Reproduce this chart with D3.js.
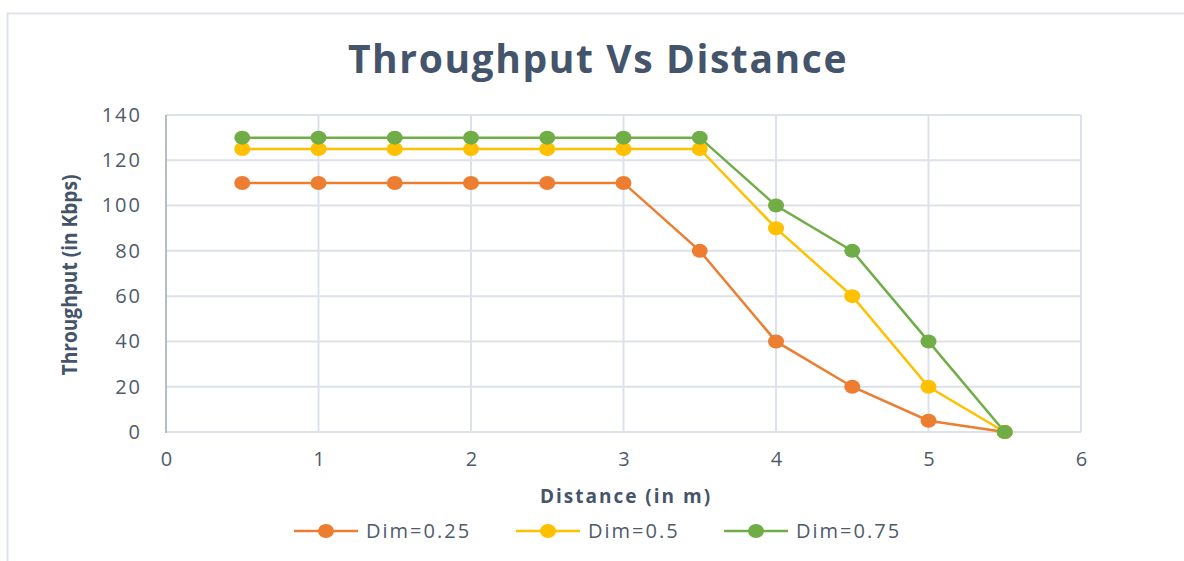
<!DOCTYPE html>
<html><head><meta charset="utf-8">
<script src="https://cdn.jsdelivr.net/npm/d3@7"></script>
<style>body{margin:0;background:#fff}svg{display:block}</style>
</head><body>
<svg id="c" width="1184" height="561"></svg>
<script>
const distances = [0.5,1,1.5,2,2.5,3,3.5,4,4.5,5,5.5];
const dim025 = [110,110,110,110,110,110,80,40,20,5,0];
const dim05  = [125,125,125,125,125,125,125,90,60,20,0];
const dim075 = [130,130,130,130,130,130,130,100,80,40,0];
const seriesNames = ["Dim=0.25","Dim=0.5","Dim=0.75"];
const seriesColors = ["#ED7D31","#FFC000","#70AD47"];
const xTicks = [0,1,2,3,4,5,6];
const yTicks = [0,20,40,60,80,100,120,140];

const series = [dim025, dim05, dim075].map((v,i)=>({name:seriesNames[i], color:seriesColors[i],
  pts: v.map((y,j)=>({x:distances[j], y}))}));

const svg = d3.select("#c");
const font = "'Open Sans', 'Noto Sans', sans-serif";
svg.append("rect").attr("x",7.5).attr("y",13.5).attr("width",1200).attr("height",600)
  .attr("fill","#fff").attr("stroke","#dfe3ea").attr("stroke-width",2);

const L=166, R=1081, T=115, B=432;
const x = d3.scaleLinear().domain([0,6]).range([L,R]);
const y = d3.scaleLinear().domain([0,140]).range([B,T]);

// gridlines
svg.append("g").selectAll("line").data(yTicks).join("line")
  .attr("x1",L).attr("x2",R).attr("y1",d=>y(d)).attr("y2",d=>y(d))
  .attr("stroke","#dde2ea").attr("stroke-width",2);
svg.append("g").selectAll("line").data(xTicks).join("line")
  .attr("y1",T).attr("y2",B).attr("x1",d=>x(d)).attr("x2",d=>x(d))
  .attr("stroke","#dde2ea").attr("stroke-width",2);
svg.append("line").attr("x1",L).attr("x2",L).attr("y1",T).attr("y2",B+1)
  .attr("stroke","#b4bcc8").attr("stroke-width",2);

// axes labels
const yAxis = d3.axisLeft(y).tickValues(yTicks).tickSize(0).tickPadding(24).tickFormat(d3.format("d"));
const gy = svg.append("g").attr("transform",`translate(${L},0)`).call(yAxis);
const xAxis = d3.axisBottom(x).tickValues(xTicks).tickSize(0).tickPadding(20).tickFormat(d3.format("d"));
const gx = svg.append("g").attr("transform",`translate(0,${B})`).call(xAxis);
[gx,gy].forEach(g=>{g.select(".domain").remove();
  g.selectAll("text").attr("fill","#4f5b6b").style("font-family",font).style("font-size","20px").style("letter-spacing","2px");});
gx.selectAll("text").attr("dx",1);

// title
svg.append("text").attr("x",598).attr("y",73).attr("text-anchor","middle")
  .attr("fill","#44546A").style("font-family",font).style("font-weight","bold").style("font-size","39px")
  .style("letter-spacing","1.6px")
  .text("Throughput Vs Distance");
svg.append("text").attr("x",626).attr("y",503).attr("text-anchor","middle")
  .attr("fill","#44546A").style("font-family",font).style("font-weight","bold").style("font-size","19px")
  .style("letter-spacing","2px")
  .text("Distance (in m)");
svg.append("text").attr("transform","translate(77,275) rotate(-90) scale(0.87,1)").attr("text-anchor","middle")
  .attr("fill","#44546A").style("font-family",font).style("font-weight","bold").style("font-size","22px")
  .text("Throughput (in Kbps)");

// lines
const line = d3.line().x(d=>x(d.x)).y(d=>y(d.y));
series.forEach(s=>{
  svg.append("path").attr("d",line(s.pts)).attr("fill","none").attr("stroke",s.color).attr("stroke-width",2.5);
});
series.forEach(s=>{
  svg.append("g").selectAll("ellipse").data(s.pts).join("ellipse")
    .attr("cx",d=>x(d.x)).attr("cy",d=>y(d.y)).attr("rx",8).attr("ry",7).attr("fill",s.color);
});

// legend
const legX = [294, 516, 724];
series.forEach((s,i)=>{
  const g = svg.append("g").attr("transform",`translate(${legX[i]},531)`);
  g.append("line").attr("x1",0).attr("x2",64).attr("stroke",s.color).attr("stroke-width",2.5);
  g.append("ellipse").attr("cx",32).attr("rx",8).attr("ry",7).attr("fill",s.color);
  g.append("text").attr("x",72).attr("y",7).attr("fill","#4f5b6b").style("font-family",font).style("font-size","20px")
    .style("letter-spacing","2px").text(s.name);
});
</script>
</body></html>
